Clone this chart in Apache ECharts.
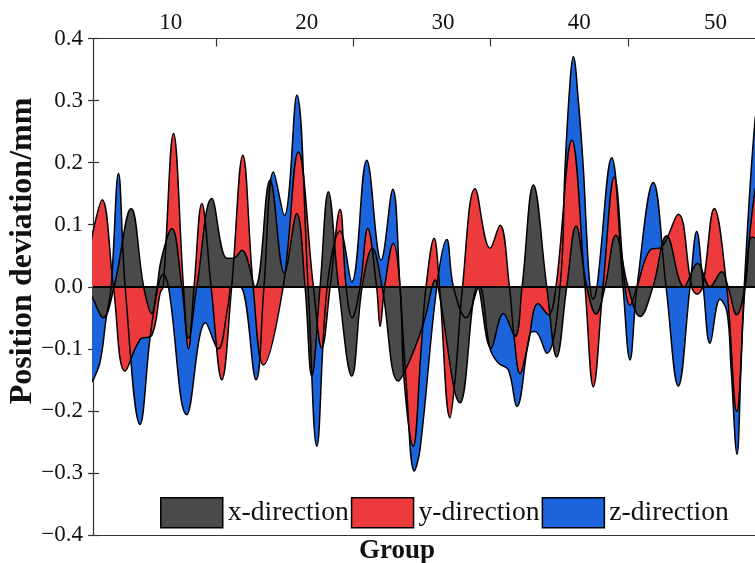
<!DOCTYPE html>
<html>
<head>
<meta charset="utf-8">
<script src="https://cdn.jsdelivr.net/npm/echarts@6/dist/echarts.min.js"></script>
<style>
  html, body { margin: 0; padding: 0; background: #fff; }
  #chart { width: 755px; height: 563px; }
</style>
</head>
<body>
<div id="chart"></div>
<script>
// Position deviation of each group along the x, y and z directions (mm)

const groupRange = [4.3, 52.9];
const groupLabelValues = [10, 20, 30, 40, 50];
const groupTickValues = [13.35, 23.42, 33.5, 43.58];

const xDirGroups = [4.1, 4.31, 5.05, 5.85, 7.10, 8.02, 8.61, 9.01, 9.30, 10.09, 10.82, 11.31, 11.92, 13.02, 14.12, 14.61, 15.23, 16.20, 17.30, 18.35, 19.26, 19.87, 20.36, 20.97, 21.58, 22.33, 23.30, 24.06, 24.81, 25.52, 26.72, 27.72, 28.68, 29.19, 29.41, 29.63, 31.25, 32.53, 33.52, 34.43, 35.28, 35.80, 36.63, 37.61, 38.34, 39.08, 39.76, 40.55, 41.23, 41.89, 42.68, 43.58, 44.46, 45.41, 46.42, 47.69, 48.69, 49.60, 50.46, 50.92, 51.56, 52.17, 52.68, 53.27];
const xDirValues = [-0.01, -0.02, -0.05, 0, 0.126, 0, -0.043, 0, 0.043, 0.094, 0, -0.083, 0, 0.142, 0.046, 0.046, 0.059, 0, 0.172, 0.022, 0.118, 0, -0.144, 0, 0.153, 0, -0.144, 0, 0.062, 0, -0.152, -0.11, -0.05, 0, 0.011, 0, -0.187, 0, -0.099, -0.043, -0.08, 0, 0.164, 0, -0.113, 0, 0.098, 0, -0.044, 0, 0.083, 0, -0.048, 0, 0.082, 0, 0.038, 0, 0.024, 0, -0.045, 0, 0.08, 0.075];

const yDirGroups = [4.1, 4.31, 4.97, 5.80, 6.66, 7.76, 8.62, 9.23, 9.45, 10.21, 10.94, 11.31, 11.72, 12.29, 12.97, 13.76, 14.48, 15.30, 16.06, 16.81, 18.26, 19.38, 20.48, 21.10, 21.71, 22.44, 22.88, 23.32, 23.91, 24.47, 25.12, 25.38, 25.71, 26.35, 26.84, 27.14, 27.80, 28.39, 28.75, 29.34, 29.74, 30.51, 30.88, 31.43, 32.35, 33.45, 34.18, 34.87, 35.21, 35.65, 36.17, 36.99, 37.73, 38.29, 39.45, 40.42, 41.03, 41.74, 42.57, 43.36, 43.72, 44.24, 45.19, 46.05, 47.27, 48.25, 48.64, 49.05, 49.91, 50.82, 51.56, 52.17, 52.90, 53.27];
const yDirValues = [0.06, 0.09, 0.140, 0, -0.136, -0.085, -0.078, -0.01, 0, 0.247, 0, -0.10, 0, 0.134, 0, -0.15, 0, 0.212, 0, -0.126, 0, 0.217, 0, -0.099, 0, 0.125, 0, -0.05, 0, 0.094, 0, -0.064, 0, 0.070, 0, -0.15, -0.257, -0.10, 0, 0.078, 0, -0.211, -0.15, 0, 0.158, 0.062, 0.099, 0, -0.08, -0.14, -0.10, -0.027, -0.045, 0, 0.236, 0, -0.161, 0, 0.177, 0, -0.03, 0, 0.059, 0.064, 0.117, 0, -0.012, 0, 0.126, 0, -0.201, 0, 0.156, 0.17];

const zDirGroups = [4.1, 4.31, 4.83, 5.27, 5.63, 6.17, 6.66, 7.76, 8.50, 9.08, 9.45, 9.84, 11.19, 12.57, 13.49, 14.22, 14.51, 15.10, 16.27, 16.85, 17.55, 18.35, 19.26, 20.09, 20.73, 21.49, 22.44, 23.30, 24.40, 25.45, 26.31, 26.84, 27.28, 27.89, 28.31, 29.54, 30.27, 30.76, 31.69, 32.64, 33.45, 34.06, 34.79, 35.41, 36.39, 36.75, 37.61, 38.59, 38.95, 39.32, 39.56, 39.93, 40.30, 40.55, 40.79, 41.01, 41.30, 42.38, 43.21, 43.72, 44.24, 45.43, 46.37, 47.27, 48.13, 48.62, 49.10, 49.60, 50.33, 50.84, 51.14, 51.58, 51.87, 52.11, 52.90, 53.27];
const zDirValues = [-0.155, -0.15, -0.12, -0.05, 0, 0.183, 0, -0.222, -0.08, 0, 0.02, 0, -0.206, -0.058, -0.10, -0.03, 0, 0, -0.15, 0, 0.185, 0.115, 0.309, 0, -0.257, 0, 0.09, 0.008, 0.204, 0.043, 0.157, 0, -0.15, -0.297, -0.262, 0, 0.076, 0, -0.05, 0, -0.10, -0.123, -0.134, -0.193, -0.075, -0.072, -0.107, 0, 0.19, 0.33, 0.371, 0.30, 0.19, 0.08, 0, -0.02, 0, 0.208, 0, -0.118, 0, 0.168, 0, -0.16, 0, 0.089, 0, -0.091, -0.02, -0.04, -0.13, -0.27, -0.13, 0, 0.268, 0.30];

const seriesNames = ['x-direction', 'y-direction', 'z-direction'];
const seriesColors = ['#4a4a4a', '#ed3a3d', '#1c64dc'];

const SERIF = "'Liberation Serif', 'Times New Roman', serif";

function toPairs(xs, ys) {
  return xs.map((x, i) => [x, ys[i]]);
}

function areaSeries(name, color, xs, ys) {
  return {
    name: name,
    type: 'line',
    smooth: 0.4,
    symbol: 'none',
    showSymbol: false,
    color: color,
    itemStyle: { color: color },
    lineStyle: { color: '#000', width: 1.5 },
    areaStyle: { color: color, opacity: 1, origin: 0 },
    emphasis: { disabled: true },
    data: toPairs(xs, ys)
  };
}

function signedLabel(v) {
  const s = Math.abs(v).toFixed(1);
  return v < -1e-9 ? '\u2212' + s : s;
}

const chart = echarts.init(document.getElementById('chart'), null, { renderer: 'canvas' });

// drawn back to front: z, then y, then x on top
const zSeries = areaSeries(seriesNames[2], seriesColors[2], zDirGroups, zDirValues);
const ySeries = areaSeries(seriesNames[1], seriesColors[1], yDirGroups, yDirValues);
const xSeries = areaSeries(seriesNames[0], seriesColors[0], xDirGroups, xDirValues);
xSeries.markLine = {
  silent: true,
  symbol: 'none',
  label: { show: false },
  lineStyle: { color: '#000', width: 2, type: 'solid' },
  data: [{ yAxis: 0 }]
};

chart.setOption({
  animation: false,
  grid: { left: 93, right: 0, top: 38.5, bottom: 28, containLabel: false },
  legend: {
    data: seriesNames,
    left: 155,
    top: 492,
    orient: 'horizontal',
    icon: 'rect',
    itemWidth: 62,
    itemHeight: 30,
    itemGap: 2,
    itemStyle: { borderColor: '#000', borderWidth: 1.5 },
    textStyle: { fontFamily: SERIF, fontSize: 27.6, color: '#111' },
    selectedMode: false
  },
  xAxis: [
    {
      type: 'value',
      position: 'top',
      min: groupRange[0],
      max: groupRange[1],
      splitLine: { show: false },
      axisLine: { show: true, onZero: false, lineStyle: { color: '#333', width: 1.2 } },
      axisTick: { show: true, inside: true, length: 8, customValues: groupTickValues, lineStyle: { color: '#333', width: 1.2 } },
      axisLabel: { show: true, customValues: groupLabelValues, margin: 4, fontFamily: SERIF, fontSize: 23, color: '#111' }
    },
    {
      type: 'value',
      position: 'bottom',
      min: groupRange[0],
      max: groupRange[1],
      splitLine: { show: false },
      axisLine: { show: true, onZero: false, lineStyle: { color: '#333', width: 1.2 } },
      axisTick: { show: false },
      axisLabel: { show: false }
    }
  ],
  yAxis: [
    {
      type: 'value',
      position: 'left',
      min: -0.4,
      max: 0.4,
      interval: 0.1,
      splitLine: { show: false },
      axisLine: { show: true, onZero: false, lineStyle: { color: '#333', width: 1.2 } },
      axisTick: { show: true, inside: false, length: 5, lineStyle: { color: '#333', width: 1.2 } },
      axisLabel: { margin: 10, fontFamily: SERIF, fontSize: 23, color: '#111', formatter: signedLabel }
    },
    {
      type: 'value',
      position: 'left',
      min: -0.4,
      max: 0.4,
      interval: 0.1,
      splitLine: { show: false },
      axisLine: { show: false, onZero: false },
      axisTick: { show: true, inside: true, length: 6, lineStyle: { color: '#333', width: 1.2 } },
      axisLabel: { show: false }
    }
  ],
  graphic: [
    {
      type: 'text',
      x: 23,
      y: 251,
      rotation: Math.PI / 2,
      style: {
        text: 'Position deviation/mm',
        fontFamily: SERIF,
        fontSize: 32,
        fontWeight: 'bold',
        fill: '#111',
        align: 'center',
        verticalAlign: 'middle'
      }
    },
    {
      type: 'text',
      x: 397,
      y: 551,
      style: {
        text: 'Group',
        fontFamily: SERIF,
        fontSize: 27,
        fontWeight: 'bold',
        fill: '#111',
        align: 'center',
        verticalAlign: 'middle'
      }
    }
  ],
  series: [zSeries, ySeries, xSeries]
});
</script>
</body>
</html>
